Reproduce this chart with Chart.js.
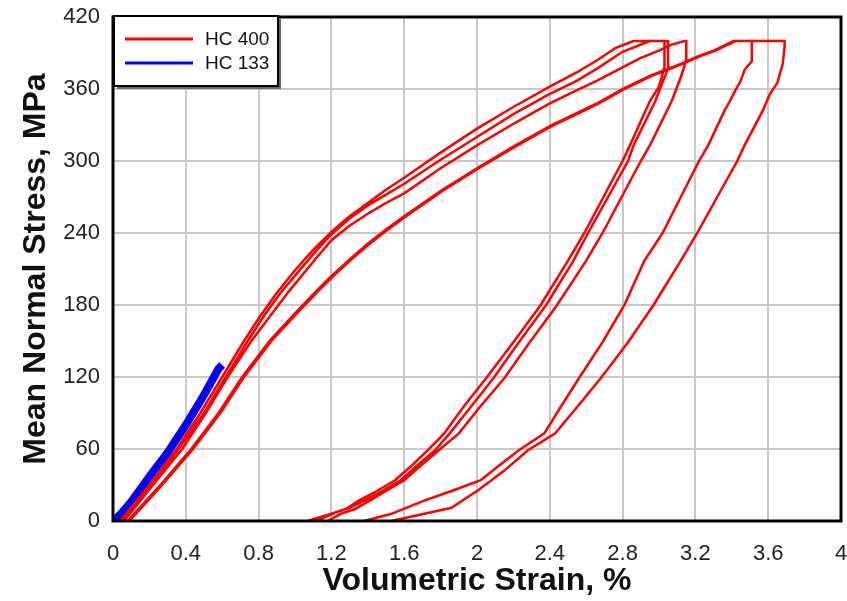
<!DOCTYPE html>
<html>
<head>
<meta charset="utf-8">
<script src="https://cdn.jsdelivr.net/npm/chart.js@4"></script>
<style>
  body { margin: 0; background: #fff; }
  #wrap { width: 847px; height: 601px; }
</style>
</head>
<body>
<div id="wrap"><canvas id="grafico" width="847" height="601"></canvas></div>
<script>
// HC 400 loops (loading, hold at 400 MPa, unloading)
var loop1Strain = [0.04, 0.20, 0.35, 0.48, 0.60, 0.72, 0.81, 0.90, 1.0, 1.1, 1.2, 1.3, 1.4, 1.5, 1.6, 1.8, 2.0, 2.2, 2.4, 2.55, 2.66, 2.76, 2.86,
                   3.03, 3.03, 3.0, 2.95, 2.84, 2.80, 2.59, 2.50, 2.35, 2.20, 2.05, 1.92, 1.82, 1.73, 1.64, 1.55, 1.45, 1.35, 1.28, 1.2, 1.07];
var loop1Stress = [0, 30, 60, 90, 120, 150, 171, 190, 209, 226, 241, 254, 265, 276, 286, 307, 327, 345, 362, 374, 384, 394, 400,
                   400, 378, 362, 350, 313, 300, 240, 217, 180, 149, 119, 94, 73, 59, 46, 34, 25, 17, 10, 6, 0];

var loop2Strain = [0.05, 0.21, 0.36, 0.50, 0.62, 0.74, 0.83, 0.92, 1.02, 1.11, 1.2, 1.3, 1.4, 1.5, 1.6, 1.8, 2.0, 2.2, 2.4, 2.55, 2.66, 2.8, 2.95,
                   3.05, 3.05, 3.01, 2.98, 2.86, 2.83, 2.61, 2.53, 2.38, 2.23, 2.09, 1.96, 1.85, 1.77, 1.67, 1.58, 1.48, 1.38, 1.30, 1.22, 1.12];
var loop2Stress = [0, 30, 60, 90, 120, 150, 171, 190, 208, 224, 239, 252, 263, 272, 281, 301, 320, 339, 356, 367, 377, 391, 400,
                   400, 377, 362, 350, 313, 300, 240, 217, 180, 149, 119, 94, 73, 59, 46, 34, 25, 17, 11, 7, 0];

var loop3Strain = [0.06, 0.22, 0.38, 0.51, 0.63, 0.76, 0.87, 0.97, 1.1, 1.2, 1.3, 1.4, 1.5, 1.6, 1.8, 2.0, 2.2, 2.4, 2.55, 2.66, 2.8, 2.9, 3.0, 3.07, 3.14,
                   3.15, 3.15, 3.12, 3.07, 2.95, 2.90, 2.69, 2.60, 2.44, 2.29, 2.15, 2.01, 1.90, 1.79, 1.69, 1.60, 1.50, 1.41, 1.33, 1.25, 1.18];
var loop3Stress = [0, 30, 60, 90, 120, 150, 172, 192, 216, 234, 246, 256, 265, 273, 294, 313, 331, 348, 359, 367, 378, 386, 392, 397, 400,
                   400, 384, 370, 350, 313, 300, 240, 217, 180, 149, 119, 94, 73, 59, 46, 34, 25, 17, 10, 6, 0];

var loop4Strain = [0.08, 0.26, 0.43, 0.58, 0.71, 0.86, 1.0, 1.12, 1.2, 1.3, 1.4, 1.5, 1.6, 1.8, 2.0, 2.2, 2.4, 2.55, 2.66, 2.8, 2.95, 3.12, 3.21, 3.30, 3.41,
                   3.51, 3.51, 3.47, 3.45, 3.42, 3.39, 3.36, 3.27, 3.22, 3.12, 3.02, 2.92, 2.81, 2.69, 2.56, 2.46, 2.37, 2.23, 2.12, 2.02, 1.86, 1.71, 1.53, 1.38];
var loop4Stress = [0, 30, 60, 90, 120, 150, 173, 192, 204, 218, 231, 243, 254, 275, 294, 312, 329, 340, 348, 360, 371, 381, 387, 392, 400,
                   400, 383, 376, 367, 359, 350, 342, 313, 300, 270, 240, 217, 180, 149, 119, 95, 73, 59, 46, 34, 25, 17, 6, 0];

var loop5Strain = [0.09, 0.27, 0.44, 0.59, 0.72, 0.87, 1.01, 1.13, 1.21, 1.31, 1.41, 1.51, 1.61, 1.81, 2.01, 2.21, 2.41, 2.56, 2.67, 2.81, 2.96, 3.13, 3.22, 3.31, 3.42,
                   3.69, 3.69, 3.68, 3.65, 3.61, 3.57, 3.47, 3.43, 3.32, 3.21, 3.12, 2.97, 2.83, 2.68, 2.55, 2.43, 2.28, 2.15, 2.01, 1.86, 1.53];
var loop5Stress = [0, 30, 60, 90, 120, 150, 173, 192, 204, 218, 231, 243, 254, 275, 294, 312, 329, 340, 348, 360, 371, 381, 387, 392, 400,
                   400, 395, 381, 365, 356, 342, 313, 300, 270, 240, 217, 180, 149, 119, 95, 73, 59, 42, 26, 11, 0];

// HC 133
var hc133Strain = [0.02, 0.03, 0.05, 0.10, 0.20, 0.30, 0.40, 0.50, 0.58, 0.60];
var hc133Stress = [0, 4, 7, 16, 37, 57, 80, 105, 127, 130];

var xTicks = [0, 0.4, 0.8, 1.2, 1.6, 2, 2.4, 2.8, 3.2, 3.6, 4];
var yTicks = [0, 60, 120, 180, 240, 300, 360, 420];

function pontos(strain, stress) {
    var out = [];
    for (var i = 0; i < strain.length; i++) out.push({x: strain[i], y: stress[i]});
    return out;
}

// all HC 400 loops in one series, broken by a gap point
var loops = [[loop1Strain, loop1Stress], [loop2Strain, loop2Stress], [loop3Strain, loop3Stress],
             [loop4Strain, loop4Stress], [loop5Strain, loop5Stress]];
var hc400Data = [];
loops.forEach(function (l, i) {
    if (i > 0) hc400Data.push({x: l[0][0], y: null});
    hc400Data = hc400Data.concat(pontos(l[0], l[1]));
});

var fonte = "'Liberation Sans', Arial, sans-serif";

var moldura = {
    id: 'moldura',
    afterDatasetsDraw: function (chart) {
        var a = chart.chartArea, ctx = chart.ctx;
        ctx.save();
        ctx.strokeStyle = '#000';
        ctx.lineWidth = 3;
        ctx.strokeRect(a.left, a.top, a.right - a.left, a.bottom - a.top);
        ctx.restore();
    }
};

var legenda = {
    id: 'legenda',
    afterDraw: function (chart) {
        var ctx = chart.ctx;
        var x = 114, y = 16, w = 164, h = 70;
        ctx.save();
        ctx.fillStyle = '#666';
        ctx.fillRect(x + 3, y + 3, w, h);
        ctx.fillStyle = '#fff';
        ctx.fillRect(x, y, w, h);
        ctx.strokeStyle = '#000';
        ctx.lineWidth = 2;
        ctx.strokeRect(x, y, w, h);
        ctx.font = '19px ' + fonte;
        ctx.textBaseline = 'middle';
        chart.data.datasets.forEach(function (ds, i) {
            var ly = 39 + i * 24;
            ctx.strokeStyle = ds.borderColor;
            ctx.lineWidth = 3;
            ctx.beginPath();
            ctx.moveTo(125, ly);
            ctx.lineTo(193, ly);
            ctx.stroke();
            ctx.fillStyle = '#111';
            ctx.fillText(ds.label, 205, ly + 1);
        });
        ctx.restore();
    }
};

var ctx = document.getElementById('grafico');
var grafico = new Chart(ctx, {
    type: 'line',
    data: {
        datasets: [
            {
                label: 'HC 400',
                data: hc400Data,
                borderColor: '#ff0000',
                borderWidth: 2.5,
                pointRadius: 0,
                tension: 0,
                spanGaps: false
            },
            {
                label: 'HC 133',
                data: pontos(hc133Strain, hc133Stress),
                borderColor: '#0000ff',
                borderWidth: 8,
                pointRadius: 0,
                tension: 0
            }
        ]
    },
    options: {
        responsive: false,
        animation: false,
        layout: { padding: { left: 0, right: 6, top: 17, bottom: 0 } },
        plugins: {
            legend: { display: false },
            tooltip: { enabled: false }
        },
        scales: {
            x: {
                type: 'linear',
                min: 0,
                max: 4,
                afterBuildTicks: function (axis) { axis.ticks = xTicks.map(function (v) { return {value: v}; }); },
                afterFit: function (axis) {
                    axis.height = 80;
                    axis.paddingLeft = 0;
                    axis.paddingRight = 0;
                },
                grid: { color: '#c8c8c8', lineWidth: 2, drawTicks: false },
                border: { display: false },
                ticks: {
                    padding: 20,
                    color: '#222',
                    font: { family: fonte, size: 22 },
                    callback: function (v) { return String(Number(v.toFixed(1))); }
                },
                title: {
                    display: true,
                    text: 'Volumetric Strain, %',
                    color: '#111',
                    font: { family: fonte, size: 32, weight: 'bold' },
                    padding: { top: 0, bottom: 1 }
                }
            },
            y: {
                min: 0,
                max: 420,
                afterBuildTicks: function (axis) { axis.ticks = yTicks.map(function (v) { return {value: v}; }); },
                afterFit: function (axis) {
                    axis.width = 113;
                    axis.paddingTop = 0;
                    axis.paddingBottom = 0;
                },
                grid: { color: '#c8c8c8', lineWidth: 2, drawTicks: false },
                border: { display: false },
                ticks: {
                    padding: 13,
                    color: '#222',
                    font: { family: fonte, size: 22 }
                },
                title: {
                    display: true,
                    text: 'Mean Normal Stress, MPa',
                    color: '#111',
                    font: { family: fonte, size: 32, weight: 'bold' },
                    padding: { top: 17, bottom: 0 }
                }
            }
        }
    },
    plugins: [moldura, legenda]
});
</script>
</body>
</html>
